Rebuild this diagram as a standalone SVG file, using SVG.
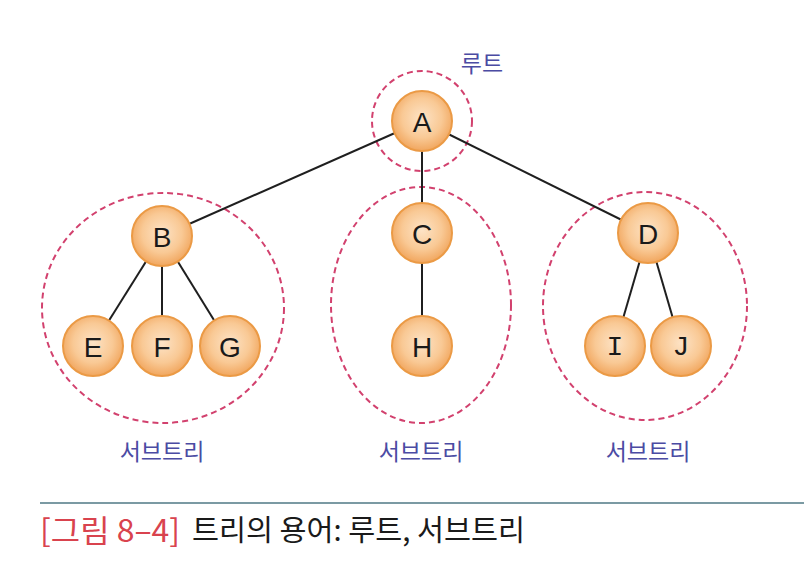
<svg xmlns="http://www.w3.org/2000/svg" width="804" height="582" viewBox="0 0 804 582">
<defs>
<radialGradient id="g" cx="50%" cy="45%" r="55%">
<stop offset="0" stop-color="#fde3c6"/>
<stop offset="0.6" stop-color="#f9c995"/>
<stop offset="1" stop-color="#f1a65e"/>
</radialGradient>
<style>
.n circle{fill:url(#g);stroke:#eb9a45;stroke-width:2}
.n text{font-family:"Liberation Sans",Arial,sans-serif;font-size:28px;fill:#1a1a1a;text-anchor:middle;dominant-baseline:central}
.e line{stroke:#1f1f1f;stroke-width:2}
.d{fill:none;stroke:#d2416e;stroke-width:2;stroke-dasharray:6 4}
.lbl{font-family:"Noto Sans CJK KR","Noto Sans",sans-serif;font-size:23px;fill:#4b4ba3;text-anchor:middle}
</style>
</defs>
<rect width="804" height="582" fill="#ffffff"/>
<g id="groups">
<circle class="d" cx="422" cy="121" r="50"/>
<ellipse class="d" cx="163" cy="308" rx="121" ry="115"/>
<ellipse class="d" cx="421" cy="305" rx="90" ry="118"/>
<ellipse class="d" cx="645" cy="306" rx="102" ry="114"/>
</g>
<g id="connectors" class="e">
<line x1="422" y1="121" x2="162" y2="236"/>
<line x1="422" y1="121" x2="422" y2="233"/>
<line x1="422" y1="121" x2="648" y2="233"/>
<line x1="162" y1="236" x2="93" y2="346"/>
<line x1="162" y1="236" x2="162" y2="346"/>
<line x1="162" y1="236" x2="230" y2="346"/>
<line x1="422" y1="233" x2="422" y2="346"/>
<line x1="648" y1="233" x2="615" y2="346"/>
<line x1="648" y1="233" x2="681" y2="346"/>
</g>
<g id="A" class="n"><circle cx="422" cy="121" r="30"/><text x="422" y="122">A</text></g>
<g id="B" class="n"><circle cx="162" cy="236" r="30"/><text x="162" y="237">B</text></g>
<g id="C" class="n"><circle cx="422" cy="233" r="30"/><text x="422" y="234">C</text></g>
<g id="D" class="n"><circle cx="648" cy="233" r="30"/><text x="648" y="234">D</text></g>
<g id="E" class="n"><circle cx="93" cy="346" r="30"/><text x="93" y="347">E</text></g>
<g id="F" class="n"><circle cx="162" cy="346" r="30"/><text x="162" y="347">F</text></g>
<g id="G" class="n"><circle cx="230" cy="346" r="30"/><text x="230" y="347">G</text></g>
<g id="H" class="n"><circle cx="422" cy="346" r="30"/><text x="422" y="347">H</text></g>
<g id="I" class="n"><circle cx="615" cy="346" r="30"/><text x="615" y="347" style="font-family:'Liberation Mono',monospace">I</text></g>
<g id="J" class="n"><circle cx="681" cy="346" r="30"/><text x="681" y="347" style="font-family:'Liberation Mono',monospace">J</text></g>
<g id="labels">
<text class="lbl" x="482" y="72">루트</text>
<text class="lbl" x="162" y="460">서브트리</text>
<text class="lbl" x="421" y="460">서브트리</text>
<text class="lbl" x="648" y="460">서브트리</text>
</g>
<g id="caption">
<line x1="40" y1="503" x2="804" y2="503" stroke="#7b9aa3" stroke-width="2"/>
<text x="40" y="542" font-family="'Noto Sans CJK KR','Noto Sans',sans-serif" font-size="31" fill="#d9434e" textLength="140" lengthAdjust="spacingAndGlyphs">[그림 8–4]</text>
<text x="192" y="541" font-family="'Noto Sans CJK KR','Noto Sans',sans-serif" font-size="29" fill="#1a1a1a" textLength="333" lengthAdjust="spacingAndGlyphs">트리의 용어: 루트, 서브트리</text>
</g>
</svg>
